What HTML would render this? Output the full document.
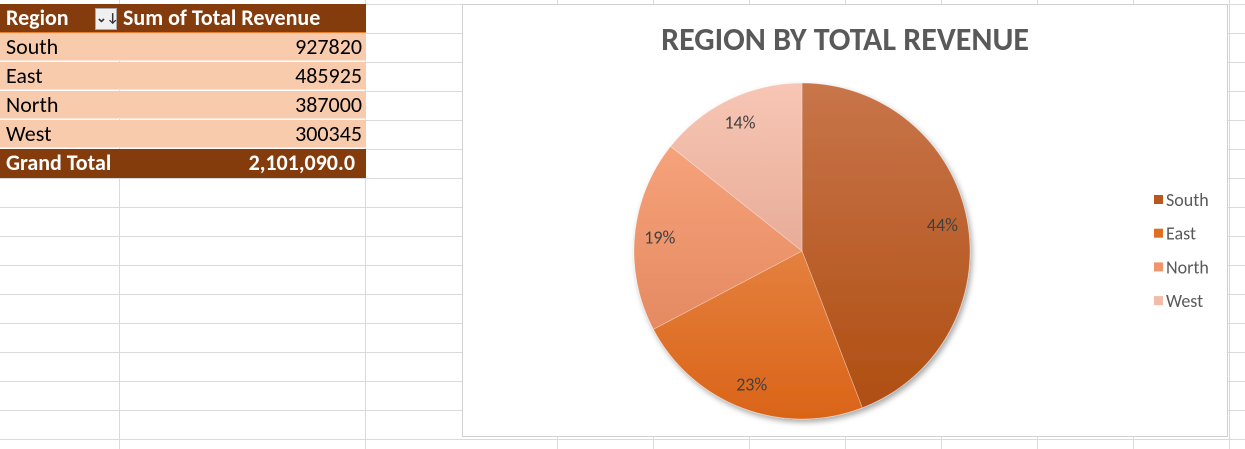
<!DOCTYPE html>
<html><head><meta charset="utf-8"><style>
body{margin:0;width:1245px;height:449px;overflow:hidden;background:#fff;font-family:Calibri,"Liberation Sans",sans-serif;position:relative}
.abs{position:absolute}
.row{position:absolute;left:0;width:366px;height:28px;font-size:22px;line-height:28px;box-sizing:border-box}
</style></head><body>
<svg class="abs" style="left:0;top:0" width="1245" height="449" id="grid"></svg>
<div>
<div class="row" style="top:4px;height:29px;background:#843C0C;color:#fff;font-weight:bold;border-bottom:1px solid #ED7D31">
<span class="abs" style="left:6px">Region</span>
<span class="abs" style="left:95px;top:4px;width:22px;height:22px;background:#f0f0f0;border:1px solid #aaa;box-sizing:border-box;color:#333;font-size:13px;line-height:20px;text-align:center">⌄↓</span>
<span class="abs" style="left:123px">Sum of Total Revenue</span></div>
<div class="row" style="top:33px;background:#F8CBAD;border-bottom:1px solid #fbe3d5"><span class="abs" style="left:6px">South</span><span class="abs" style="right:4px">927820</span></div>
<div class="row" style="top:62px;background:#F8CBAD;border-bottom:1px solid #fbe3d5"><span class="abs" style="left:6px">East</span><span class="abs" style="right:4px">485925</span></div>
<div class="row" style="top:91px;background:#F8CBAD;border-bottom:1px solid #fbe3d5"><span class="abs" style="left:6px">North</span><span class="abs" style="right:4px">387000</span></div>
<div class="row" style="top:120px;background:#F8CBAD;border-bottom:1px solid #fbe3d5"><span class="abs" style="left:6px">West</span><span class="abs" style="right:4px">300345</span></div>
<div class="row" style="top:149px;height:29px;background:#843C0C;color:#fff;font-weight:bold"><span class="abs" style="left:6px">Grand Total</span><span class="abs" style="right:11px">2,101,090.0</span></div>
</div>
<div class="abs" style="left:462px;top:4px;width:766px;height:433px;background:#fff;border:1px solid #d0d0d0;box-sizing:border-box"></div>
<div class="abs" style="left:462px;top:20px;width:766px;text-align:center;font-size:32px;font-weight:bold;color:#595959">REGION BY TOTAL REVENUE</div>
<svg class="abs" style="left:0;top:0" width="1245" height="449" id="pie">
<defs>
<linearGradient id="g0" x1="0" y1="0" x2="0" y2="1"><stop offset="0" stop-color="#C8754A"/><stop offset="1" stop-color="#AF4E12"/></linearGradient>
<linearGradient id="g1" x1="0" y1="0" x2="0" y2="1"><stop offset="0" stop-color="#E4803E"/><stop offset="1" stop-color="#DA6418"/></linearGradient>
<linearGradient id="g2" x1="0" y1="0" x2="0" y2="1"><stop offset="0" stop-color="#F6A27A"/><stop offset="1" stop-color="#E58A62"/></linearGradient>
<linearGradient id="g3" x1="0" y1="0" x2="0" y2="1"><stop offset="0" stop-color="#F8C6B5"/><stop offset="1" stop-color="#E7AC98"/></linearGradient>
<filter id="sh" x="-10%" y="-10%" width="130%" height="130%"><feDropShadow dx="2" dy="3" stdDeviation="3" flood-opacity="0.35"/></filter>
</defs>
</svg>
<script>
const categories=['South','East','North','West'];
const values=[927820,485925,387000,300345];
const fills=['url(#g0)','url(#g1)','url(#g2)','url(#g3)'];
const legendColors=['#B9581E','#E06E22','#F0946A','#F2BCA8'];
const ns='http://www.w3.org/2000/svg';
const grid=document.getElementById('grid');
[119,365,557,653,749,845,941,1037,1133,1229].forEach(x=>{const l=document.createElementNS(ns,'line');l.setAttribute('x1',x+.5);l.setAttribute('x2',x+.5);l.setAttribute('y1',0);l.setAttribute('y2',449);l.setAttribute('stroke','#dadada');

grid.appendChild(l);});
for(let y=4;y<449;y+=29){const l=document.createElementNS(ns,'line');l.setAttribute('x1',0);l.setAttribute('x2',1245);l.setAttribute('y1',y+.5);l.setAttribute('y2',y+.5);l.setAttribute('stroke','#dadada');

grid.appendChild(l);}
const svg=document.getElementById('pie');
const cx=802,cy=251,r=168;
const total=values.reduce((a,b)=>a+b,0);
const raw=values.map(v=>v/total*100);
const pct=raw.map(Math.floor);
let rem=100-pct.reduce((a,b)=>a+b,0);
raw.map((v,i)=>[v-Math.floor(v),i]).sort((a,b)=>b[0]-a[0]).forEach(([f,i])=>{if(rem>0){pct[i]++;rem--;}});
const g=document.createElementNS(ns,'g');g.setAttribute('filter','url(#sh)');svg.appendChild(g);
let a0=-Math.PI/2;
values.forEach((v,i)=>{
 const a1=a0+v/total*2*Math.PI;
 const p=document.createElementNS(ns,'path');
 const x0=cx+r*Math.cos(a0),y0=cy+r*Math.sin(a0),x1=cx+r*Math.cos(a1),y1=cy+r*Math.sin(a1);
 p.setAttribute('d',`M${cx},${cy}L${x0},${y0}A${r},${r} 0 ${a1-a0>Math.PI?1:0} 1 ${x1},${y1}Z`);
 p.setAttribute('fill',fills[i]);p.setAttribute('stroke','rgba(255,255,255,0.4)');p.setAttribute('stroke-width','0.7');
 
 
 g.appendChild(p);
 const am=(a0+a1)/2,lr=r*0.85;
 const t=document.createElementNS(ns,'text');
 t.setAttribute('x',cx+lr*Math.cos(am));t.setAttribute('y',cy+lr*Math.sin(am)+6);
 t.setAttribute('text-anchor','middle');t.setAttribute('font-size','18');t.setAttribute('fill','#404040');
 t.setAttribute('font-family','Calibri,"Liberation Sans",sans-serif');
 t.textContent=pct[i]+'%';
 
 
 svg.appendChild(t);
 a0=a1;
});
categories.forEach((c,i)=>{
 const y=200+i*33.7;
 const rc=document.createElementNS(ns,'rect');rc.setAttribute('x',1154);rc.setAttribute('y',y-5);rc.setAttribute('width',9);rc.setAttribute('height',9);rc.setAttribute('fill',legendColors[i]);
 
 
 svg.appendChild(rc);
 const t=document.createElementNS(ns,'text');t.setAttribute('x',1166);t.setAttribute('y',y+6);t.setAttribute('font-size','18');t.setAttribute('fill','#595959');
 t.setAttribute('font-family','Calibri,"Liberation Sans",sans-serif');t.textContent=c;
 
 
 svg.appendChild(t);
});
</script>
</body></html>
